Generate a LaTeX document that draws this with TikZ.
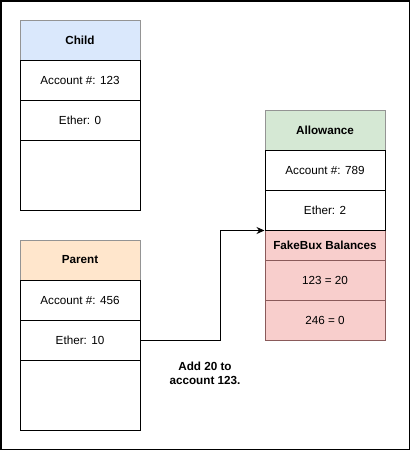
\documentclass[tikz,border=0pt]{standalone}
\usepackage{fontspec}
\setmainfont{Liberation Sans}
\usetikzlibrary{positioning, arrows.meta}
\definecolor{childfill}{HTML}{DAE8FC}
\definecolor{parentfill}{HTML}{FFE6CC}
\definecolor{allowfill}{HTML}{D5E8D4}
\definecolor{fakefill}{HTML}{F8CECC}
\definecolor{fakeline}{HTML}{8A5A5A}
\definecolor{headline}{HTML}{949494}
\tikzset{
  cell/.style={draw=black, line width=1pt, fill=white, minimum width=120pt, minimum height=40pt, inner sep=0pt, font=\fontsize{11.7}{14}\selectfont},
  head/.style={cell, draw=headline, font=\fontsize{11.7}{14}\selectfont\bfseries},
  fake/.style={cell, draw=fakeline, fill=fakefill}
}

\begin{document}
\begin{tikzpicture}[x=1pt, y=-1pt]
        \useasboundingbox (0,0) rectangle (411,451);
        \draw[line width=1.3pt] (1,1) rectangle (409.5,449.5);
        % child contract
        \node[head, fill=childfill] (chead) at (80,40) {Child};
        \node[cell] (cacct) at (80,80) {Account \#: 123};
        \node[cell] (cether) at (80,120) {Ether: 0};
        \node[cell, minimum height=70pt] (crest) at (80,175) {};
        % parent contract
        \node[head, fill=parentfill] (phead) at (80,260) {Parent};
        \node[cell] (pacct) at (80,300) {Account \#: 456};
        \node[cell] (pether) at (80,340) {Ether: 10};
        \node[cell, minimum height=70pt] (prest) at (80,395) {};
        % allowance contract
        \node[head, fill=allowfill] (ahead) at (325,130) {Allowance};
        \node[fake, minimum height=30pt, font=\fontsize{11.7}{14}\selectfont\bfseries] (fhead) at (325,245) {FakeBux Balances};
        \node[fake] (f123) at (325,280) {123 = 20};
        \node[fake] (f246) at (325,320) {246 = 0};
        \node[cell] (aacct) at (325,170) {Account \#: 789};
        \node[cell] (aether) at (325,210) {Ether: 2};
        % the call
        \coordinate (bend) at (220,340);
        \node[font=\fontsize{11.7}{14}\selectfont\bfseries, align=center] (note) at (205,373) {Add 20 to\\account 123.};

        \draw[line width=1pt, -{Stealth[length=8pt, width=7pt]}] (pether.east)--(bend)|-(aether.south west);
    \end{tikzpicture}
\end{document}
